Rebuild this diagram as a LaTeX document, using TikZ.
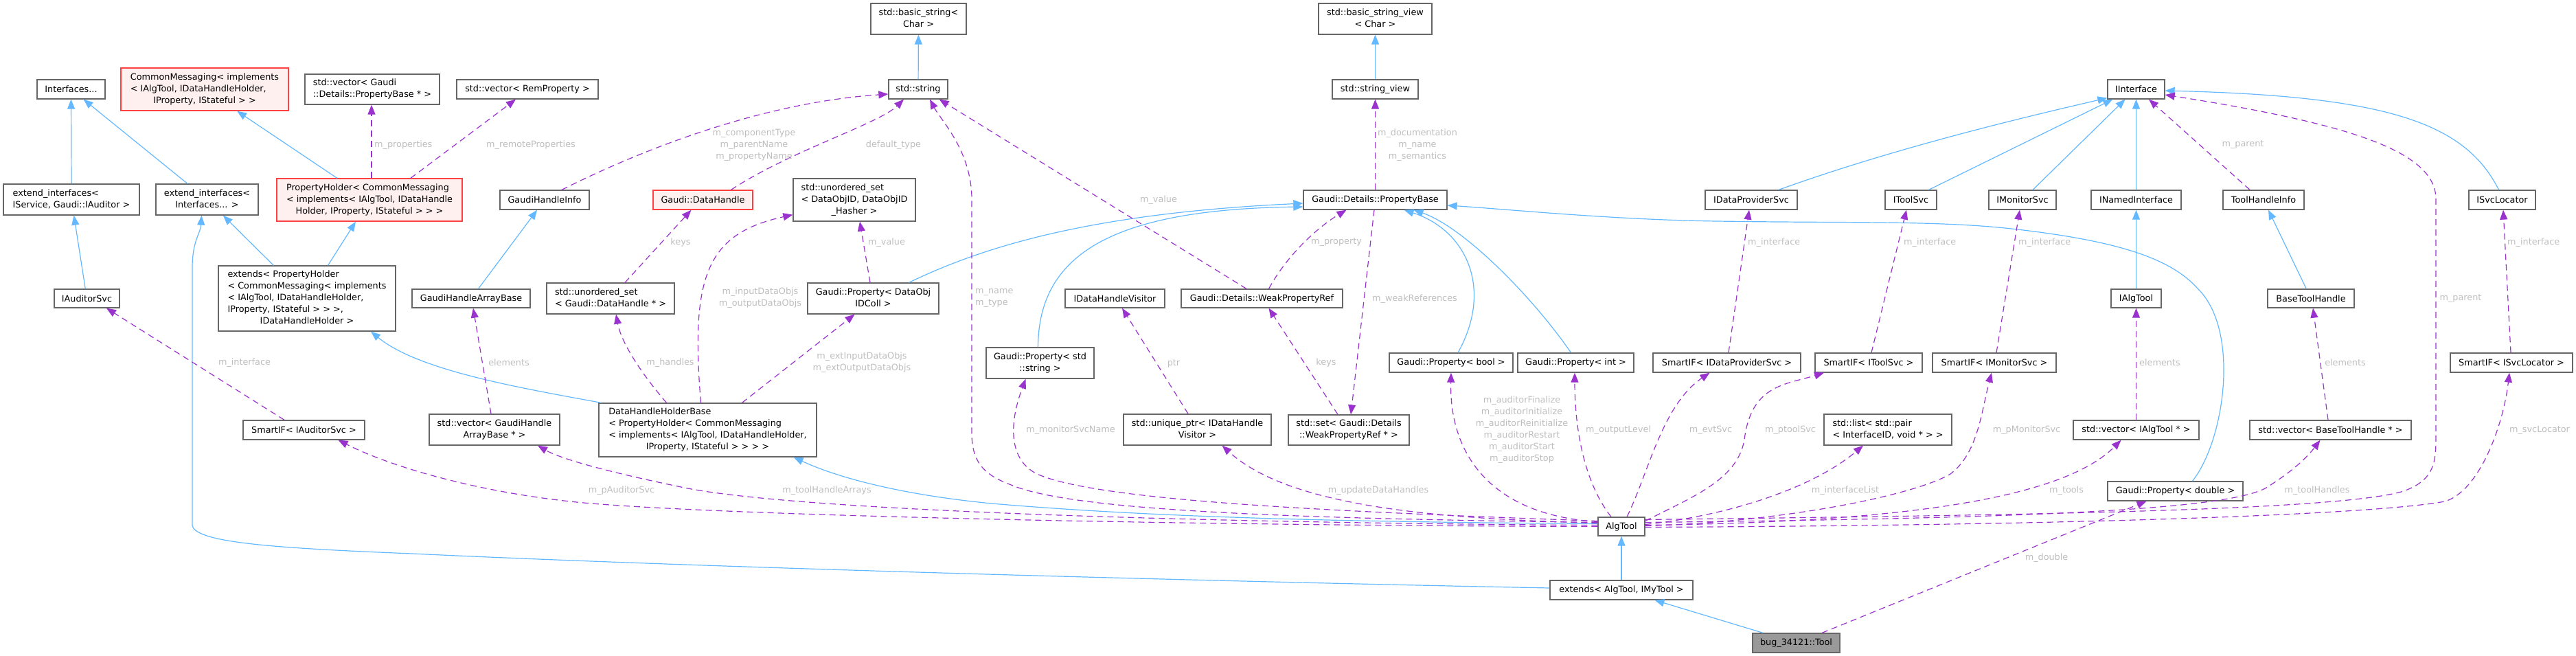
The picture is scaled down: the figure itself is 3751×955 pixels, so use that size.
\documentclass[tikz,border=0pt]{standalone}
\usepackage{fontspec}
\setmainfont{DejaVu Sans}
\usetikzlibrary{arrows.meta,calc}
\definecolor{boxgray}{HTML}{666666}
\definecolor{boxred}{HTML}{FF4040}
\definecolor{redfill}{HTML}{FFF0F0}
\definecolor{curfill}{HTML}{999999}
\definecolor{inhblue}{HTML}{63B8FF}
\definecolor{usepurple}{HTML}{9A32CD}
\definecolor{lblgray}{HTML}{BEBEBE}
\newcommand{\ml}[2]{\begin{tabular}{@{}l@{}}#1\\\multicolumn{1}{@{}c@{}}{#2}\end{tabular}}
\begin{document}
\begin{tikzpicture}[x=1pt,y=-1pt,
 box/.style={draw=boxgray, fill=white, line width=1.3pt, inner sep=0pt, font=\fontsize{12.8}{17}\selectfont, text=black},
 redbox/.style={box, draw=boxred, fill=redfill},
 curbox/.style={box, fill=curfill},
 inh/.style={draw=inhblue, line width=1.2pt, -{Triangle[length=14pt,width=11pt]}},
 use/.style={draw=usepurple, line width=1.2pt, dash pattern=on 9pt off 6pt, -{Triangle[length=14pt,width=11pt]}},
 lbl/.style={text=lblgray, font=\fontsize{12.8}{17}\selectfont, inner sep=0pt}]
\useasboundingbox (0,0) rectangle (3751,955);
% nodes
\node[box,minimum width=99pt,minimum height=28pt] (ifs) at (103.5,130) {Interfaces...};
\node[redbox,minimum width=244pt,minimum height=62pt] (cm) at (298,130) {\ml{CommonMessaging< implements\\< IAlgTool, IDataHandleHolder,}{IProperty, IStateful > >}};
\node[box,minimum width=196pt,minimum height=44pt] (vpb) at (542,130) {\ml{std::vector< Gaudi}{::Details::PropertyBase * >}};
\node[box,minimum width=206pt,minimum height=28pt] (vrp) at (768,130) {std::vector< RemProperty >};
\node[box,minimum width=198pt,minimum height=45pt] (ei1) at (104,290.5) {\ml{extend\_interfaces<}{IService, Gaudi::IAuditor >}};
\node[box,minimum width=149pt,minimum height=45pt] (ei2) at (301.5,290.5) {\ml{extend\_interfaces<}{Interfaces... >}};
\node[redbox,minimum width=270pt,minimum height=62pt] (ph) at (538,291) {\ml{PropertyHolder< CommonMessaging\\< implements< IAlgTool, IDataHandle}{Holder, IProperty, IStateful > > >}};
\node[box,minimum width=130pt,minimum height=28pt] (ghi) at (793,291) {GaudiHandleInfo};
\node[redbox,minimum width=145pt,minimum height=28pt] (gdh) at (1023.5,291) {Gaudi::DataHandle};
\node[box,minimum width=178pt,minimum height=62pt] (usd) at (1244,291) {\ml{std::unordered\_set\\< DataObjID, DataObjID}{\_Hasher >}};
\node[box,minimum width=139pt,minimum height=45pt] (bs) at (1337.5,27.5) {\ml{std::basic\_string<}{Char >}};
\node[box,minimum width=86pt,minimum height=28pt] (str) at (1337,130) {std::string};
\node[box,minimum width=165pt,minimum height=45pt] (bsv) at (2002.5,27.5) {\ml{std::basic\_string\_view}{< Char >}};
\node[box,minimum width=125pt,minimum height=28pt] (sv) at (2002.5,130) {std::string\_view};
\node[box,minimum width=209pt,minimum height=28pt] (pb) at (2002.5,291) {Gaudi::Details::PropertyBase};
\node[box,minimum width=83pt,minimum height=28pt] (ii) at (3110.5,130) {IInterface};
\node[box,minimum width=134pt,minimum height=28pt] (idp) at (2550,291) {IDataProviderSvc};
\node[box,minimum width=75pt,minimum height=28pt] (its) at (2782.5,291) {IToolSvc};
\node[box,minimum width=98pt,minimum height=28pt] (ims) at (2945,291) {IMonitorSvc};
\node[box,minimum width=131pt,minimum height=28pt] (ini) at (3110.5,291) {INamedInterface};
\node[box,minimum width=118pt,minimum height=28pt] (thi) at (3296,291) {ToolHandleInfo};
\node[box,minimum width=97pt,minimum height=28pt] (isl) at (3643.5,291) {ISvcLocator};
\node[box,minimum width=258pt,minimum height=95pt] (ext) at (447,434.5) {\ml{extends< PropertyHolder\\< CommonMessaging< implements\\< IAlgTool, IDataHandleHolder,\\ IProperty, IStateful > > >,}{IDataHandleHolder >}};
\node[box,minimum width=95pt,minimum height=27pt] (ias) at (126.5,434.5) {IAuditorSvc};
\node[box,minimum width=172pt,minimum height=27pt] (ghab) at (686,434.5) {GaudiHandleArrayBase};
\node[box,minimum width=186pt,minimum height=45pt] (usdh) at (889,434.5) {\ml{std::unordered\_set}{< Gaudi::DataHandle * >}};
\node[box,minimum width=191pt,minimum height=45pt] (pdoc) at (1271.5,434.5) {\ml{Gaudi::Property< DataObj}{IDColl >}};
\node[box,minimum width=145pt,minimum height=27pt] (idhv) at (1623.5,434.5) {IDataHandleVisitor};
\node[box,minimum width=235pt,minimum height=27pt] (wpr) at (1837.5,434.5) {Gaudi::Details::WeakPropertyRef};
\node[box,minimum width=73pt,minimum height=27pt] (ialg) at (3110.5,434.5) {IAlgTool};
\node[box,minimum width=126pt,minimum height=27pt] (bth) at (3365,434.5) {BaseToolHandle};
\node[box,minimum width=157pt,minimum height=45pt] (pstr) at (1514.5,528.5) {\ml{Gaudi::Property< std}{::string >}};
\node[box,minimum width=180pt,minimum height=28pt] (pbool) at (2113,528) {Gaudi::Property< bool >};
\node[box,minimum width=169pt,minimum height=28pt] (pint) at (2294.5,528) {Gaudi::Property< int >};
\node[box,minimum width=215pt,minimum height=28pt] (sidp) at (2514.5,528) {SmartIF< IDataProviderSvc >};
\node[box,minimum width=156pt,minimum height=28pt] (sits) at (2721,528) {SmartIF< IToolSvc >};
\node[box,minimum width=180pt,minimum height=28pt] (sims) at (2904,528) {SmartIF< IMonitorSvc >};
\node[box,minimum width=178pt,minimum height=28pt] (sisl) at (3657,528) {SmartIF< ISvcLocator >};
\node[box,minimum width=190pt,minimum height=45pt] (vgha) at (720,625.5) {\ml{std::vector< GaudiHandle}{ArrayBase * >}};
\node[box,minimum width=317pt,minimum height=78pt] (dhhb) at (1030.5,626) {\ml{DataHandleHolderBase\\< PropertyHolder< CommonMessaging\\< implements< IAlgTool, IDataHandleHolder,}{IProperty, IStateful > > > >}};
\node[box,minimum width=215pt,minimum height=45pt] (usp) at (1743.5,625.5) {\ml{std::unique\_ptr< IDataHandle}{Visitor >}};
\node[box,minimum width=176pt,minimum height=44pt] (sset) at (1964,626) {\ml{std::set< Gaudi::Details}{::WeakPropertyRef * >}};
\node[box,minimum width=186pt,minimum height=45pt] (slist) at (2749,625.5) {\ml{std::list< std::pair}{< InterfaceID, void * > >}};
\node[box,minimum width=177pt,minimum height=28pt] (siaud) at (442.5,626) {SmartIF< IAuditorSvc >};
\node[box,minimum width=183pt,minimum height=28pt] (vialg) at (3110.5,626) {std::vector< IAlgTool * >};
\node[box,minimum width=235pt,minimum height=28pt] (vbth) at (3393.5,626) {std::vector< BaseToolHandle * >};
\node[box,minimum width=197pt,minimum height=28pt] (pdbl) at (3167.5,715) {Gaudi::Property< double >};
\node[box,minimum width=68pt,minimum height=27pt] (alg) at (2361,766.5) {AlgTool};
\node[box,minimum width=208pt,minimum height=28pt] (extat) at (2361,859) {extends< AlgTool, IMyTool >};
\node[curbox,minimum width=127pt,minimum height=28pt] (bug) at (2615.5,936) {bug\_34121::Tool};
% inheritance edges
\draw[inh] (ei1.north) -- (ifs.south);
\draw[inh] (ei2) -- (ifs);
\draw[inh] (ph) -- (cm);
\draw[inh] (ext) -- (ei2);
\draw[inh] (ext) -- (ph);
\draw[inh] (ias) -- (ei1);
\draw[inh] (ghab) -- (ghi);
\draw[inh] (str) -- (bs);
\draw[inh] (sv) -- (bsv);
\draw[inh] ($(dhhb.north west)+(4,0)$) .. controls (760,565) and (610,540) .. ($(ext.south)+(93,0)$);
\draw[inh] ($(pdoc.north)+(52,0)$) .. controls (1440,355) and (1600,310) .. ($(pb.west)+(0,5)$);
\draw[inh] ($(pstr.north)+(-3,0)$) .. controls (1512,370) and (1620,305) .. ($(pb.west)+(0,10)$);
\draw[inh] ($(pbool.north)+(10,0)$) .. controls (2175,420) and (2135,335) .. ($(pb.south)+(42,0)$);
\draw[inh] ($(pint.north)+(-7,0)$) .. controls (2230,430) and (2130,330) .. ($(pb.south)+(56,0)$);
\draw[inh] ($(pdbl.north)+(25,0)$) .. controls (3240,640) and (3262,480) .. (3200,420) .. controls (3160,375) and (3080,350) .. (2929,333) .. controls (2820,321) and (2700,325) .. (2500,322) .. controls (2350,320) and (2200,305) .. ($(pb.east)+(0,8)$);
\draw[inh] (ini) -- (ii);
\draw[inh] (ialg) -- (ini);
\draw[inh] ($(idp.north)+(40,0)$) .. controls (2760,215) and (2950,170) .. ($(ii.south west)+(0,-2)$);
\draw[inh] ($(its.north)+(26,0)$) -- ($(ii.south west)+(8,0)$);
\draw[inh] ($(ims.north)+(15,0)$) -- ($(ii.south)+(-16,0)$);
\draw[inh] ($(isl.north)+(-5,0)$) .. controls (3590,180) and (3480,140) .. ($(ii.east)+(0,2)$);
\draw[inh] (bth) -- (thi);
\draw[inh] ($(alg.west)+(0,-4)$) .. controls (2000,760) and (1700,755) .. (1444,733) .. controls (1330,722) and (1230,700) .. ($(dhhb.south)+(125,0)$);
\draw[inh] (extat) -- (alg);
\draw[inh] (bug) -- (extat);
\draw[inh] ($(extat.west)+(0,-3)$) .. controls (1700,845) and (1000,825) .. (600,806) .. controls (400,798) and (285,790) .. (280,765) -- (280,390) .. controls (280,350) and (292,340) .. ($(ei2.south)+(-8,0)$);
% usage edges
\draw[use] ($(ph.north)+(3,0)$) -- ($(vpb.south)+(-1,0)$);
\draw[use] ($(ph.north)+(60,0)$) -- ($(vrp.south)+(-17,0)$);
\draw[use] ($(ghi.north)+(25,0)$) .. controls (920,225) and (1100,150) .. ($(str.west)+(0,7)$);
\draw[use] ($(gdh.north)+(41,0)$) .. controls (1150,220) and (1280,180) .. ($(str.south)+(-21,0)$);
\draw[use] ($(usdh.north)+(21,0)$) -- ($(gdh.south)+(-17,0)$);
\draw[use] ($(dhhb.north)+(-10,0)$) .. controls (1005,400) and (1030,340) .. ($(usd.south west)+(0,-10)$);
\draw[use] ($(pdoc.north)+(-4.5,0)$) -- ($(usd.south)+(8,0)$);
\draw[use] ($(dhhb.north)+(-60,0)$) .. controls (935,545) and (905,500) .. ($(usdh.south)+(8,0)$);
\draw[use] ($(dhhb.north)+(50,0)$) -- ($(pdoc.south)+(-27,0)$);
\draw[use] ($(alg.west)+(0,-6)$) .. controls (1900,755) and (1560,745) .. (1470,705) .. controls (1430,690) and (1415,670) .. (1415,630) -- (1415,290) .. controls (1415,220) and (1370,175) .. ($(str.south)+(17,0)$);
\draw[use] ($(wpr.north)+(-22.5,0)$) -- ($(str.south east)+(-13,0)$);
\draw[use] ($(wpr.north)+(10,0)$) .. controls (1875,370) and (1920,330) .. ($(pb.south)+(-42,0)$);
\draw[use] (pb) -- (sv);
\draw[use] ($(pb.south)+(-1.5,0)$) -- ($(sset.north)+(3,0)$);
\draw[use] ($(sset.north)+(-16,0)$) -- ($(wpr.south)+(10,0)$);
\draw[use] ($(usp.north)+(-13.5,0)$) -- ($(idhv.south)+(10.5,0)$);
\draw[use] ($(alg.west)+(0,-8)$) .. controls (1950,745) and (1600,730) .. (1510,690) .. controls (1470,670) and (1468,620) .. ($(pstr.south)+(-21,0)$);
\draw[use] ($(alg.west)+(0,-5)$) .. controls (2100,755) and (1880,740) .. ($(usp.south)+(36,0)$);
\draw[use] ($(alg.west)+(0,-7)$) .. controls (2170,750) and (2110,660) .. (pbool.south);
\draw[use] ($(alg.north)+(-15,0)$) .. controls (2305,700) and (2293,620) .. ($(pint.south)+(-1.5,0)$);
\draw[use] ($(alg.north)+(8,0)$) .. controls (2400,690) and (2420,590) .. ($(sidp.south)+(-25,0)$);
\draw[use] ($(alg.east)+(0,-8)$) .. controls (2460,725) and (2530,700) .. (2540,640) .. controls (2550,560) and (2600,560) .. ($(sits.south)+(-65,0)$);
\draw[use] ($(sidp.north)+(2.5,0)$) -- ($(idp.south)+(-3,0)$);
\draw[use] ($(sits.north)+(4,0)$) -- ($(its.south)+(-6.5,0)$);
\draw[use] ($(sims.north)+(3,0)$) -- ($(ims.south)+(-4,0)$);
\draw[use] ($(alg.east)+(0,-3)$) .. controls (2520,750) and (2640,710) .. ($(slist.south)+(-36,0)$);
\draw[use] ($(alg.east)+(0,-1)$) .. controls (2600,760) and (2790,720) .. (2840,690) .. controls (2880,660) and (2885,600) .. ($(sims.south)+(-4,0)$);
\draw[use] ($(alg.east)+(0,-2)$) .. controls (2800,760) and (3010,720) .. ($(vialg.south)+(-22,0)$);
\draw[use] (vialg) -- (ialg);
\draw[use] ($(vbth.north)+(-3.5,0)$) -- ($(bth.south)+(3,0)$);
\draw[use] ($(alg.east)+(0,-6)$) .. controls (2900,755) and (3240,745) .. (3300,710) .. controls (3340,685) and (3360,665) .. ($(vbth.south)+(-15,0)$);
\draw[use] ($(bug.north)+(37.5,0)$) -- ($(pdbl.south)+(-42,0)$);
\draw[use] ($(alg.east)+(0,-10)$) .. controls (2900,750) and (3400,745) .. (3500,715) .. controls (3540,700) and (3547,680) .. (3547,640) -- (3547,290) .. controls (3547,220) and (3420,180) .. ($(ii.east)+(0,8)$);
\draw[use] ($(thi.north)+(-20,0)$) -- ($(ii.south)+(18.5,0)$);
\draw[use] ($(alg.east)+(0,1)$) .. controls (3000,765) and (3450,750) .. (3560,730) .. controls (3610,715) and (3645,620) .. ($(sisl.south)+(-3,0)$);
\draw[use] ($(sisl.north)+(-1,0)$) -- ($(isl.south)+(1.5,0)$);
\draw[use] ($(alg.west)+(0,-2)$) .. controls (1800,762) and (1150,745) .. (987,708) .. controls (900,690) and (820,670) .. ($(vgha.south)+(63,0)$);
\draw[use] (alg.west) .. controls (1700,765) and (1050,750) .. (850,732) .. controls (700,718) and (570,680) .. ($(siaud.south)+(50,0)$);
\draw[use] ($(vgha.north)+(-5,0)$) -- ($(ghab.south)+(3,0)$);
\draw[use] ($(siaud.north)+(-28.5,0)$) -- ($(ias.south)+(28.5,0)$);
% labels
\node[lbl,anchor=west] (lb1) at (545,211) {m\_properties};
\node[lbl] (lb2) at (773,211) {m\_remoteProperties};
\node[lbl,align=center] (lb3) at (1098,211) {m\_componentType\\m\_parentName\\m\_propertyName};
\node[lbl] (lb4) at (1301,211) {default\_type};
\node[lbl] (lb5) at (991,353) {keys};
\node[lbl,align=center] (lb6) at (1107,434) {m\_inputDataObjs\\m\_outputDataObjs};
\node[lbl] (lb7) at (1291,353) {m\_value};
\node[lbl] (lb8) at (976,528) {m\_handles};
\node[lbl,align=center] (lb9) at (1255,528) {m\_extInputDataObjs\\m\_extOutputDataObjs};
\node[lbl,anchor=west,align=left] (lb10) at (1420,434) {m\_name\\m\_type};
\node[lbl] (lb11) at (1687,291) {m\_value};
\node[lbl] (lb12) at (1946,353) {m\_property};
\node[lbl,align=center] (lb13) at (2064,211) {m\_documentation\\m\_name\\m\_semantics};
\node[lbl] (lb14) at (2060,435) {m\_weakReferences};
\node[lbl] (lb15) at (1931,528) {keys};
\node[lbl] (lb16) at (1709,529) {ptr};
\node[lbl] (lb17) at (1559,626) {m\_monitorSvcName};
\node[lbl] (lb18) at (2007,714) {m\_updateDataHandles};
\node[lbl,align=center] (lb19) at (2216,625.5) {m\_auditorFinalize\\m\_auditorInitialize\\m\_auditorReinitialize\\m\_auditorRestart\\m\_auditorStart\\m\_auditorStop};
\node[lbl,anchor=west] (lb20) at (2309,626) {m\_outputLevel};
\node[lbl] (lb21) at (2491,626) {m\_evtSvc};
\node[lbl] (lb22) at (2607,626) {m\_ptoolSvc};
\node[lbl,anchor=west] (lb23) at (2545,353) {m\_interface};
\node[lbl,anchor=west] (lb24) at (2772,353) {m\_interface};
\node[lbl,anchor=west] (lb25) at (2939,353) {m\_interface};
\node[lbl] (lb26) at (2687,714) {m\_interfaceList};
\node[lbl] (lb27) at (2951,626) {m\_pMonitorSvc};
\node[lbl] (lb28) at (3009,714) {m\_tools};
\node[lbl,anchor=west] (lb29) at (3115,528) {elements};
\node[lbl] (lb30) at (3415,528) {elements};
\node[lbl] (lb31) at (3374,714) {m\_toolHandles};
\node[lbl] (lb32) at (2980,812) {m\_double};
\node[lbl] (lb33) at (3583,435) {m\_parent};
\node[lbl] (lb34) at (3266,211) {m\_parent};
\node[lbl] (lb35) at (3698,626) {m\_svcLocator};
\node[lbl,anchor=west] (lb36) at (3651,353) {m\_interface};
\node[lbl] (lb37) at (1204,714) {m\_toolHandleArrays};
\node[lbl] (lb38) at (905,714) {m\_pAuditorSvc};
\node[lbl] (lb39) at (741,528) {elements};
\node[lbl] (lb40) at (356,528) {m\_interface};
\end{tikzpicture}
\end{document}
